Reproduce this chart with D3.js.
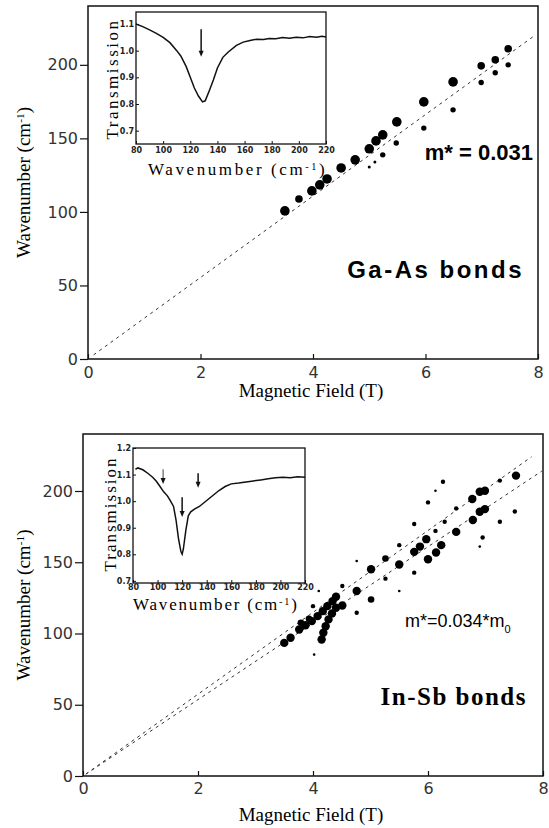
<!DOCTYPE html>
<html>
<head>
<meta charset="utf-8">
<script src="https://cdn.jsdelivr.net/npm/d3@7"></script>
<style>
  body { margin: 0; background: #fff; }
  .tick text { font-family: "DejaVu Sans", sans-serif; }
</style>
</head>
<body>
<div id="chart"></div>
<script>
// ---- data ----
// Ga-As panel: [field (T), wavenumber (cm-1)]
var gaasLarge = [[3.50,100.7],[3.98,114.3],[4.12,118.4],[4.25,122.4],[4.50,129.9],[4.75,135.4],
    [5.00,142.9],[5.12,148.3],[5.24,152.4],[5.49,161.2],[5.97,174.8],[6.49,188.4]];
var gaasMid = [[3.75,108.8],[6.99,199.3],[7.24,203.4],[7.47,210.9]];
var gaasSmall = [[5.24,138.8],[5.48,146.9],[5.97,157.0],[6.49,169.4],[6.99,188.0],[7.24,194.6],[7.47,200.0]];
var gaasTiny = [[5.00,130.6],[5.10,134.0]];
var gaasFit = [[0.1,2.8],[7.95,220.2]];

// In-Sb panel
var insbLarge = [[3.50,93.4],[3.61,97.0],[3.76,102.8],[3.87,105.8],[3.98,108.7],[4.08,112.2],[4.17,115.7],
    [4.25,119.2],[4.34,122.7],[4.40,125.8],[4.15,95.8],[4.18,100.5],[4.22,105.1],[4.27,109.9],[4.33,114.1],
    [4.40,118.1],[4.51,119.7],[4.76,129.8],[5.01,145.1],[5.50,148.4],[5.76,157.3],[5.86,161.0],[5.97,166.2],
    [6.00,152.1],[6.14,156.8],[6.23,162.0],[6.49,171.3],[6.77,194.4],[6.78,179.6],[6.90,199.5],[6.99,200.2],
    [6.90,185.4],[6.99,187.3],[7.53,210.8]];
var insbMid = [[3.79,107.5],[3.93,110.3],[5.01,123.9],[5.26,152.6]];
var insbSmall = [[4.00,119.2],[4.51,133.3],[4.76,114.6],[5.26,138.5],[5.50,162.0],[5.76,176.8],[5.76,142.7],
    [6.00,192.0],[6.26,206.5],[6.13,172.0],[6.29,178.4],[6.49,187.8],[6.95,167.4],[7.25,207.3],[7.25,178.4],[7.51,185.6]];
var insbTiny = [[4.10,129.8],[4.02,85.2],[4.76,150.9],[5.50,129.8],[6.13,200.2],[6.90,161.0]];
var insbFitUpper = [[0.05,1.4],[7.8,224]];
var insbFitLower = [[0.05,1.3],[7.98,214]];

// inset spectra
var topInsetWn = [80,85,90,95,100,105,110,113,117,120,123,126,129,131,134,137,140,144,148,154,159,164,169,174,178,183,188,193,198,203,208,213,217,220];
var topInsetTr = [1.10,1.09,1.078,1.065,1.05,1.03,1.0,0.98,0.94,0.90,0.86,0.83,0.808,0.812,0.85,0.89,0.935,0.975,0.995,1.02,1.032,1.038,1.043,1.042,1.046,1.045,1.049,1.047,1.05,1.048,1.053,1.05,1.054,1.051];
var topArrows = [[128, 1.08, 0.977]];

var botInsetWn = [82,84,88,92,96,99,102,105,108,110,113,115,117,119,120,121,123,125,127,130,134,138,142,146,150,155,160,166,172,178,184,190,196,202,208,214,220];
var botInsetTr = [1.12,1.125,1.118,1.105,1.09,1.075,1.055,1.035,1.02,1.005,0.98,0.93,0.86,0.81,0.80,0.82,0.89,0.945,0.96,0.97,0.98,0.995,1.01,1.025,1.04,1.055,1.065,1.068,1.072,1.076,1.08,1.084,1.088,1.09,1.088,1.092,1.09];
var botArrows = [[104.5, 1.12, 1.065], [120, 1.015, 0.94], [133, 1.105, 1.05]];

var mainXTicks = [0, 2, 4, 6, 8];
var mainYTicks = [0, 50, 100, 150, 200];
var insetXTicks = [80, 100, 120, 140, 160, 180, 200, 220];
var topInsetYTicks = [0.7, 0.8, 0.9, 1.0, 1.1];
var botInsetYTicks = [0.7, 0.8, 0.9, 1.0, 1.1, 1.2];

var serif = "'Liberation Serif', 'Times New Roman', serif";
var sans = "'Liberation Sans', Arial, sans-serif";

// ---- drawing ----
var svg = d3.select("#chart").append("svg")
    .attr("width", 549)
    .attr("height", 828);

function wavenumberLabel(sel) {
    sel.append("tspan").text("Wavenumber (cm");
    sel.append("tspan").attr("baseline-shift", "super").attr("font-size", "0.6em").text("-1");
    sel.append("tspan").text(")");
}

function drawMain(box, series, fits) {
    var x = d3.scaleLinear().domain([0, 8]).range([box.left, box.left + box.width]);
    var y = d3.scaleLinear().domain([0, 240]).range([box.top + box.height, box.top]);
    var g = svg.append("g");

    g.append("rect")
        .attr("x", box.left).attr("y", box.top)
        .attr("width", box.width).attr("height", box.height)
        .attr("fill", "none").attr("stroke", "#111").attr("stroke-width", 1.5);

    var xAxis = g.append("g")
        .attr("transform", `translate(0, ${box.top + box.height})`)
        .call(d3.axisBottom(x).tickValues(mainXTicks).tickSizeInner(-5).tickSizeOuter(0).tickPadding(box.xPad));
    var yAxis = g.append("g")
        .attr("transform", `translate(${box.left}, 0)`)
        .call(d3.axisLeft(y).tickValues(mainYTicks).tickSizeInner(8).tickSizeOuter(0).tickPadding(2));
    [xAxis, yAxis].forEach(function(a) {
        a.select(".domain").remove();
        a.selectAll("line").attr("stroke", "#111").attr("stroke-width", 1.2);
        a.selectAll("text").attr("font-size", 16).attr("fill", "#333");
    });

    var line = d3.line().x(d => x(d[0])).y(d => y(d[1]));
    fits.forEach(function(f) {
        g.append("path").datum(f)
            .attr("d", line)
            .attr("fill", "none").attr("stroke", "#333")
            .attr("stroke-width", 1).attr("stroke-dasharray", "3,4");
    });

    series.forEach(function(s) {
        g.selectAll(null).data(s.data).enter()
            .append("circle")
            .attr("cx", d => x(d[0]))
            .attr("cy", d => y(d[1]))
            .attr("r", s.r)
            .attr("fill", "#000");
    });

    g.append("text")
        .attr("transform", `translate(${box.ylabX}, ${box.top + box.height / 2}) rotate(-90)`)
        .attr("text-anchor", "middle")
        .style("font-family", serif)
        .attr("font-size", 19)
        .call(wavenumberLabel);

    g.append("text")
        .attr("x", box.left + box.width / 2 - 2)
        .attr("y", box.xlabY)
        .attr("text-anchor", "middle")
        .style("font-family", serif)
        .attr("font-size", 19)
        .text("Magnetic Field (T)");
    return g;
}

function drawInset(box, wn, tr, yDomain, yTicks, arrows) {
    var x = d3.scaleLinear().domain([80, 220]).range([box.left, box.left + box.width]);
    var y = d3.scaleLinear().domain(yDomain).range([box.top + box.height, box.top]);
    var g = svg.append("g");

    g.append("rect")
        .attr("x", box.left).attr("y", box.top)
        .attr("width", box.width).attr("height", box.height)
        .attr("fill", "#fff").attr("stroke", "#111").attr("stroke-width", 1.3);

    var xa = g.append("g")
        .attr("transform", `translate(0, ${box.top + box.height})`)
        .call(d3.axisBottom(x).tickValues(insetXTicks).tickSizeInner(-3).tickSizeOuter(0).tickPadding(box.xPad));
    var ya = g.append("g")
        .attr("transform", `translate(${box.left}, 0)`)
        .call(d3.axisLeft(y).tickValues(yTicks).tickFormat(d3.format(".1f")).tickSizeInner(-3).tickSizeOuter(0).tickPadding(2));
    [xa, ya].forEach(function(a) {
        a.select(".domain").remove();
        a.selectAll("line").attr("stroke", "#111");
        a.selectAll("text").attr("font-size", 8).attr("font-weight", "bold").attr("fill", "#222");
    });

    var pts = wn.map((w, i) => [w, tr[i]]);
    g.append("path").datum(pts)
        .attr("d", d3.line().x(d => x(d[0])).y(d => y(d[1])))
        .attr("fill", "none").attr("stroke", "#111").attr("stroke-width", 1.5);

    arrows.forEach(function(a, i) {
        var ax = x(a[0]), y1 = y(a[1]), y2 = y(a[2]);
        var w = (box.thinFirst && i === 0) ? 0.8 : 1.5;
        g.append("line")
            .attr("x1", ax).attr("x2", ax).attr("y1", y1).attr("y2", y2 - 5)
            .attr("stroke", "#111").attr("stroke-width", w);
        g.append("path")
            .attr("d", `M${ax - 2.5},${y2 - 6}L${ax + 2.5},${y2 - 6}L${ax},${y2}Z`)
            .attr("fill", "#111");
    });

    g.append("text")
        .attr("transform", `translate(${box.ylabX}, ${box.top + box.ylabMid}) rotate(-90)`)
        .attr("text-anchor", "middle")
        .style("font-family", serif)
        .attr("font-size", 17)
        .attr("letter-spacing", box.ylabSpacing)
        .text("Transmission");

    g.append("text")
        .attr("x", box.xlabX)
        .attr("y", box.xlabY)
        .style("font-family", serif)
        .attr("font-size", 17)
        .attr("letter-spacing", box.xlabSpacing)
        .call(wavenumberLabel);
}

// top panel (Ga-As)
drawMain({left: 88, top: 6, width: 450, height: 353, xPad: 8, ylabX: 30, xlabY: 397},
    [{data: gaasLarge, r: 4.8}, {data: gaasMid, r: 3.8}, {data: gaasSmall, r: 2.7}, {data: gaasTiny, r: 1.5}],
    [gaasFit]);

drawInset({left: 136, top: 12, width: 190, height: 132, xPad: 3, ylabX: 118, ylabMid: 67, ylabSpacing: 2.5,
           xlabX: 148, xlabY: 175, xlabSpacing: 2.6},
    topInsetWn, topInsetTr, [0.65, 1.145], topInsetYTicks, topArrows);

svg.append("text")
    .attr("x", 533).attr("y", 160)
    .attr("text-anchor", "end")
    .style("font-family", sans)
    .attr("font-weight", "bold").attr("font-size", 22)
    .text("m* = 0.031");

svg.append("text")
    .attr("x", 524).attr("y", 278)
    .attr("text-anchor", "end")
    .style("font-family", sans)
    .attr("font-weight", "bold").attr("font-size", 24)
    .attr("letter-spacing", 2.5)
    .text("Ga-As bonds");

// bottom panel (In-Sb)
drawMain({left: 83, top: 434, width: 460, height: 342, xPad: 7, ylabX: 30, xlabY: 821},
    [{data: insbLarge, r: 4.2}, {data: insbMid, r: 3.3}, {data: insbSmall, r: 2.2}, {data: insbTiny, r: 1.3}],
    [insbFitUpper, insbFitLower]);

drawInset({left: 133, top: 448, width: 172, height: 135, xPad: 1, ylabX: 116, ylabMid: 66, ylabSpacing: 2,
           xlabX: 133, xlabY: 610, xlabSpacing: 1.8, thinFirst: true},
    botInsetWn, botInsetTr, [0.692, 1.2], botInsetYTicks, botArrows);

var mLabel = svg.append("text")
    .attr("x", 405).attr("y", 627)
    .style("font-family", sans)
    .attr("font-size", 18);
mLabel.append("tspan").text("m*=0.034*m");
mLabel.append("tspan").attr("baseline-shift", "sub").attr("font-size", 11).text("0");

svg.append("text")
    .attr("x", 527).attr("y", 705)
    .attr("text-anchor", "end")
    .style("font-family", serif)
    .attr("font-weight", "bold").attr("font-size", 25)
    .attr("letter-spacing", 1.5)
    .text("In-Sb bonds");
</script>
</body>
</html>
